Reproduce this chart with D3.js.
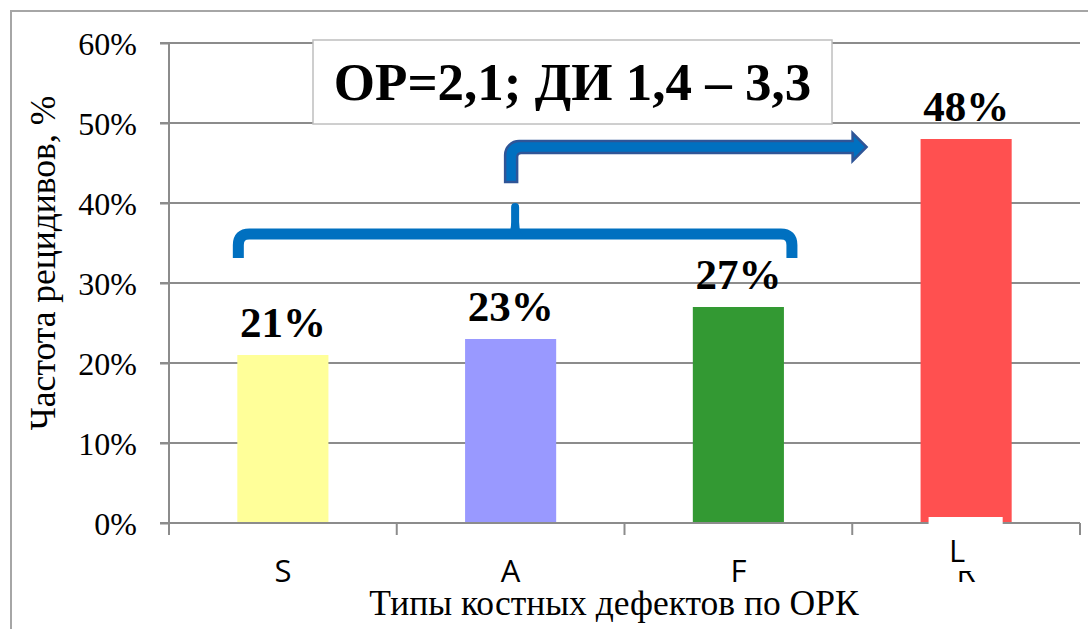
<!DOCTYPE html>
<html lang="ru">
<head>
<meta charset="utf-8">
<script src="https://cdn.jsdelivr.net/npm/d3@7"></script>
<style>
  html, body { margin: 0; padding: 0; background: #fff; }
  svg { display: block; }
  svg text { font-family: "Liberation Serif", "Times New Roman", serif; }
  svg text.cat { font-family: "Open Sans", "Liberation Sans", sans-serif; }
</style>
</head>
<body>
<svg id="chart" width="1088" height="629"></svg>
<script>
// Recurrence rate by bone defect type
const categories = ["S", "A", "F", "R"];
const recurrence = [21, 23, 27, 48];
const barColors = ["#FFFF99", "#9999FF", "#339933", "#FF5050"];
const yTicks = [0, 10, 20, 30, 40, 50, 60];
const oddsText = "ОР=2,1; ДИ 1,4 – 3,3";
const yTitle = "Частота рецидивов, %";
const xTitle = "Типы костных дефектов по ОРК";
const overlayLabel = "L";

const svg = d3.select("#chart");
const plot = { left: 169, right: 1080, top: 43, bottom: 523 };
const gridColor = "#8c8c8c";

const x = d3.scaleBand()
  .domain(categories)
  .range([plot.left, plot.right])
  .paddingInner(0.6)
  .paddingOuter(0.3);

const y = d3.scaleLinear()
  .domain([0, 60])
  .range([plot.bottom, plot.top]);

// chart frame
svg.append("rect")
  .attr("x", 11).attr("y", 11)
  .attr("width", 1100).attr("height", 640)
  .attr("fill", "none")
  .attr("stroke", "#a6a6a6")
  .attr("stroke-width", 2);

// horizontal gridlines
svg.append("g")
  .selectAll("line")
  .data(yTicks)
  .join("line")
  .attr("x1", plot.left - 9)
  .attr("x2", plot.right)
  .attr("y1", d => y(d))
  .attr("y2", d => y(d))
  .attr("stroke", gridColor)
  .attr("stroke-width", 2);

// y axis with percent labels
const yAxis = svg.append("g")
  .attr("transform", `translate(${plot.left},0)`)
  .call(d3.axisLeft(y).tickValues(yTicks).tickFormat(d => d + "%")
    .tickSizeInner(9).tickSizeOuter(0).tickPadding(23));
yAxis.attr("font-family", null);
yAxis.select(".domain").remove();
yAxis.selectAll(".tick line").attr("stroke", gridColor).attr("stroke-width", 2);
yAxis.selectAll(".tick text")
  .style("font-size", "32px")
  .attr("fill", "#000")
  .attr("dy", "0.35em");

svg.append("line")
  .attr("x1", plot.left).attr("x2", plot.left)
  .attr("y1", plot.top).attr("y2", plot.bottom + 12)
  .attr("stroke", gridColor).attr("stroke-width", 2);

// bars
svg.append("g")
  .selectAll("rect")
  .data(categories)
  .join("rect")
  .attr("x", d => x(d))
  .attr("width", x.bandwidth())
  .attr("y", (d, i) => y(recurrence[i]))
  .attr("height", (d, i) => y(0) - y(recurrence[i]))
  .attr("fill", (d, i) => barColors[i]);

// x axis line and category boundary ticks
svg.append("line")
  .attr("x1", plot.left).attr("x2", plot.right)
  .attr("y1", plot.bottom).attr("y2", plot.bottom)
  .attr("stroke", gridColor).attr("stroke-width", 2);

const boundaries = d3.range(categories.length + 1)
  .map(i => plot.left + i * x.step());
svg.append("g")
  .selectAll("line")
  .data(boundaries)
  .join("line")
  .attr("x1", d => d).attr("x2", d => d)
  .attr("y1", plot.bottom).attr("y2", plot.bottom + 12)
  .attr("stroke", gridColor).attr("stroke-width", 2);

// category labels
const xAxis = svg.append("g")
  .attr("transform", `translate(0,${plot.bottom})`)
  .call(d3.axisBottom(x).tickSize(0).tickPadding(37));
xAxis.attr("font-family", null);
xAxis.select(".domain").remove();
xAxis.selectAll(".tick text")
  .attr("class", "cat")
  .style("font-size", "31px")
  .attr("fill", "#000");

// value labels
svg.append("g")
  .selectAll("text")
  .data(categories)
  .join("text")
  .attr("x", d => x(d) + x.bandwidth() / 2)
  .attr("y", (d, i) => y(recurrence[i]) - 18)
  .attr("text-anchor", "middle")
  .style("font-weight", "bold")
  .style("font-size", "43px")
  .attr("fill", "#000")
  .text((d, i) => recurrence[i] + "%");

// relabelled last category
const last = categories[categories.length - 1];
const lx = x(last);
svg.append("rect")
  .attr("x", lx + 8).attr("y", plot.bottom - 6)
  .attr("width", x.bandwidth() - 17).attr("height", 54)
  .attr("fill", "#fff");
svg.append("text")
  .attr("class", "cat")
  .attr("x", lx + x.bandwidth() / 2 - 9)
  .attr("y", 562)
  .attr("text-anchor", "middle")
  .style("font-size", "31px")
  .attr("fill", "#000")
  .text(overlayLabel);

// odds ratio box
svg.append("rect")
  .attr("x", 313).attr("y", 40)
  .attr("width", 519).attr("height", 84)
  .attr("fill", "#fff")
  .attr("stroke", "#bfbfbf")
  .attr("stroke-width", 1.5);
svg.append("text")
  .attr("x", 572.5).attr("y", 100)
  .attr("text-anchor", "middle")
  .style("font-weight", "bold")
  .style("font-size", "53px")
  .attr("fill", "#000")
  .text(oddsText);

// brace grouping the first three categories
const blue = "#0070C0";
const bL = x(categories[0]) + 1;
const bR = x(categories[2]) + x.bandwidth() + 8;
const bM = (bL + bR) / 2;
const bY = 234;
svg.append("path")
  .attr("d", `M${bL},258 V245 Q${bL},${bY} ${bL + 11},${bY} H${bR - 11} Q${bR},${bY} ${bR},245 V258`)
  .attr("fill", "none")
  .attr("stroke", blue)
  .attr("stroke-width", 11);
svg.append("path")
  .attr("d", `M${bM - 12},${bY + 5} Q${bM - 4},${bY + 2} ${bM - 4},${bY - 12} V${bY - 27} A4,4 0 0 1 ${bM + 4},${bY - 27} V${bY - 12} Q${bM + 4},${bY + 2} ${bM + 12},${bY + 5} Z`)
  .attr("fill", blue);

// bent arrow pointing to the last bar
const aX = bM - 4;
const aTip = x(last) - 54;
svg.append("path")
  .attr("d", `M${aX - 6},182 V155 A14,14 0 0 1 ${aX + 8},141 H${aTip - 14} V133 L${aTip},147 L${aTip - 14},161 V153 H${aX + 10} A4,4 0 0 0 ${aX + 6},157 V182 Z`)
  .attr("fill", blue)
  .attr("stroke", "#2F5597")
  .attr("stroke-width", 2.5)
  .attr("stroke-linejoin", "miter");

// axis titles
svg.append("text")
  .attr("transform", "translate(55,263) rotate(-90)")
  .attr("text-anchor", "middle")
  .style("font-size", "35.5px")
  .attr("fill", "#000")
  .text(yTitle);

svg.append("text")
  .attr("x", 614).attr("y", 615)
  .attr("text-anchor", "middle")
  .style("font-size", "35.5px")
  .attr("fill", "#000")
  .text(xTitle);
</script>
</body>
</html>
